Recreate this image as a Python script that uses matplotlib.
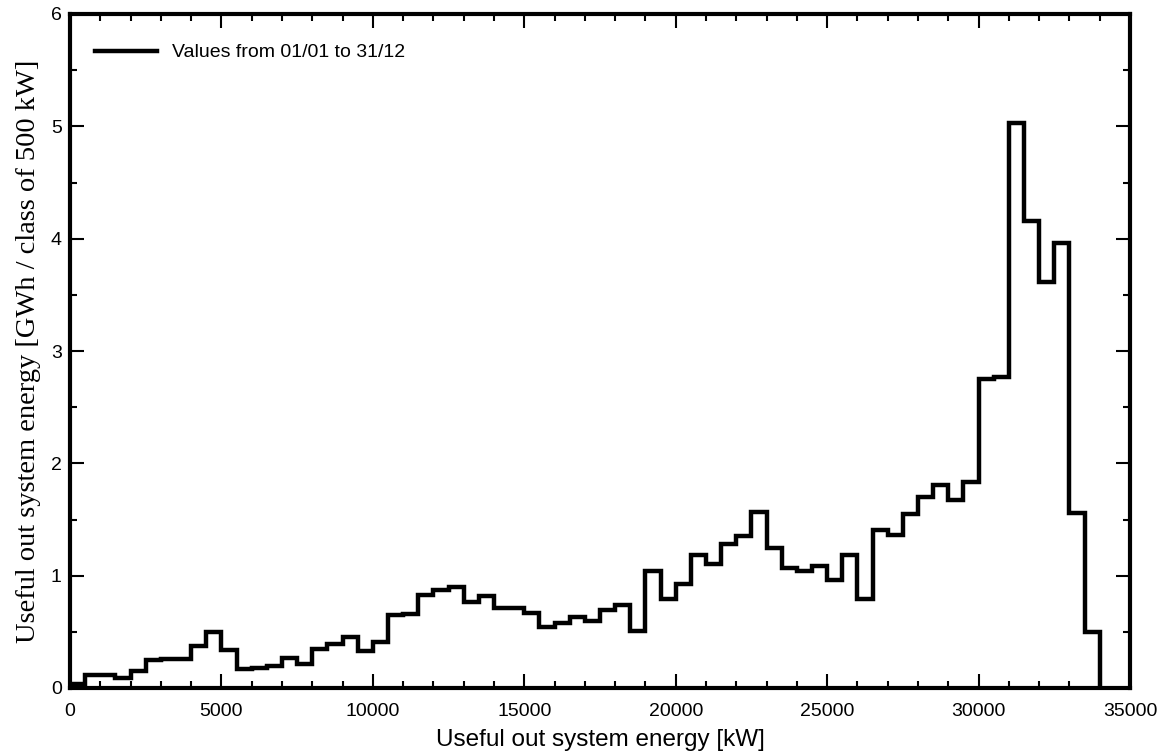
import numpy as np
import matplotlib
matplotlib.use("Agg")
import matplotlib.pyplot as plt
from matplotlib.ticker import MultipleLocator

# energy per 500 kW class [GWh], classes from 0 kW upwards
bin_width = 500
energy_gwh = [
    0.04, 0.12, 0.12, 0.09, 0.15, 0.25, 0.26, 0.26, 0.37, 0.50,
    0.34, 0.17, 0.18, 0.20, 0.27, 0.21, 0.35, 0.39, 0.45, 0.33,
    0.41, 0.65, 0.66, 0.83, 0.87, 0.90, 0.77, 0.82, 0.71, 0.71,
    0.67, 0.54, 0.58, 0.63, 0.60, 0.69, 0.74, 0.51, 1.04, 0.79,
    0.93, 1.18, 1.10, 1.28, 1.35, 1.57, 1.25, 1.07, 1.04, 1.09,
    0.96, 1.18, 0.79, 1.41, 1.36, 1.55, 1.70, 1.81, 1.67, 1.83,
    2.75, 2.77, 5.03, 4.16, 3.61, 3.96, 1.56, 0.50,
]
legend_label = "Values from 01/01 to 31/12"

edges = np.arange(len(energy_gwh) + 1) * bin_width

fig = plt.figure(figsize=(11.68, 7.53), dpi=100)
ax = fig.add_axes([70 / 1168, 65 / 753, 1060 / 1168, 674 / 753])

ax.stairs(energy_gwh, edges, baseline=0, color="black", linewidth=3.2,
          label=legend_label)

ax.set_xlim(0, 35000)
ax.set_ylim(0, 6)
ax.xaxis.set_major_locator(MultipleLocator(5000))
ax.xaxis.set_minor_locator(MultipleLocator(1000))
ax.yaxis.set_major_locator(MultipleLocator(1))
ax.yaxis.set_minor_locator(MultipleLocator(0.5))

for s in ax.spines.values():
    s.set_linewidth(3)

ax.tick_params(which="both", direction="in", top=True, right=True,
               labelsize=14, width=1.5, colors="black")
ax.tick_params(which="major", length=10)
ax.tick_params(which="minor", length=5)
ax.tick_params(axis="x", pad=11)
ax.tick_params(axis="y", pad=6)
for lab in ax.get_xticklabels() + ax.get_yticklabels():
    lab.set_family("Liberation Sans")

ax.set_xlabel("Useful out system energy [kW]", fontsize=17.5,
              family="Liberation Sans", labelpad=6)
ax.set_ylabel("Useful out system energy [GWh / class of 500 kW]",
              fontsize=20.5, family="Liberation Serif", labelpad=7)

ax.legend(loc="center left", bbox_to_anchor=(0.0236, 0.9426), frameon=False,
          borderpad=0, borderaxespad=0, handlelength=3.2, handletextpad=0.75,
          prop={"family": "Liberation Sans", "size": 14})

fig.savefig("out.png", dpi=100)
